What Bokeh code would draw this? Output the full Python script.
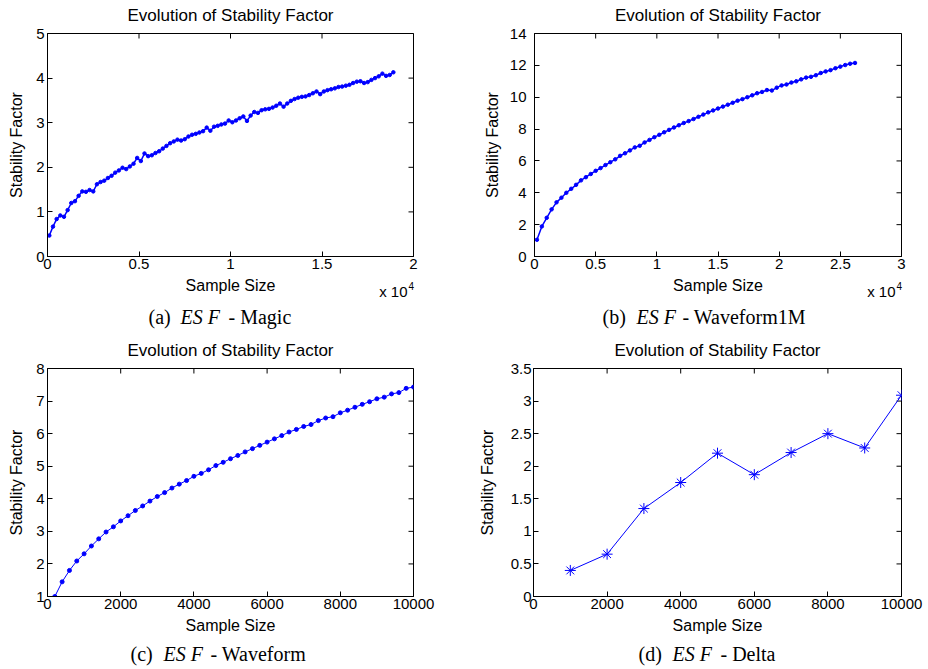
import math
from bokeh.plotting import figure
from bokeh.models import Range1d, LinearAxis, FixedTicker
from bokeh.core.properties import value
from bokeh.layouts import column, row
from bokeh.embed import file_html
from bokeh.resources import INLINE

# ---------------- data ----------------
MAGIC_X = list(range(100, 19000, 200))
MAGIC_Y = [0.47, 0.67, 0.84, 0.92, 0.89, 1.04, 1.20, 1.24, 1.36, 1.46,
           1.45, 1.49, 1.46, 1.62, 1.67, 1.70, 1.76, 1.81, 1.88, 1.93,
           1.99, 1.96, 2.02, 2.08, 2.21, 2.14, 2.31, 2.25, 2.27, 2.32,
           2.36, 2.42, 2.48, 2.54, 2.58, 2.62, 2.60, 2.63, 2.69, 2.73,
           2.75, 2.78, 2.81, 2.89, 2.82, 2.91, 2.93, 2.96, 2.98, 3.05,
           3.01, 3.05, 3.10, 3.14, 3.04, 3.16, 3.24, 3.22, 3.28, 3.30,
           3.31, 3.34, 3.38, 3.43, 3.36, 3.43, 3.49, 3.53, 3.56, 3.58,
           3.59, 3.62, 3.66, 3.70, 3.64, 3.70, 3.73, 3.75, 3.77, 3.80,
           3.81, 3.83, 3.85, 3.89, 3.92, 3.93, 3.89, 3.91, 3.96, 4.00,
           4.04, 4.10, 4.05, 4.07, 4.13]
MAGIC_XTICKS = [0, 5000, 10000, 15000, 20000]
MAGIC_XTICK_LABELS = ["0", "0.5", "1", "1.5", "2"]
MAGIC_YTICKS = [0, 1, 2, 3, 4, 5]
MAGIC_YTICK_LABELS = ["0", "1", "2", "3", "4", "5"]

W1M_X = list(range(200, 26201, 400))
W1M_Y = [1.05, 1.89, 2.43, 2.96, 3.40, 3.69, 4.00, 4.25, 4.50, 4.78,
         4.98, 5.18, 5.38, 5.55, 5.74, 5.92, 6.10, 6.32, 6.48, 6.66,
         6.85, 6.95, 7.16, 7.32, 7.49, 7.64, 7.80, 7.95, 8.10, 8.24,
         8.38, 8.50, 8.63, 8.77, 8.91, 9.05, 9.17, 9.29, 9.41, 9.53,
         9.65, 9.78, 9.88, 10.00, 10.12, 10.25, 10.33, 10.45, 10.42, 10.60,
         10.74, 10.80, 10.92, 11.00, 11.12, 11.23, 11.28, 11.38, 11.52, 11.62,
         11.70, 11.82, 11.92, 12.02, 12.10, 12.15]
W1M_XTICKS = [0, 5000, 10000, 15000, 20000, 25000, 30000]
W1M_XTICK_LABELS = ["0", "0.5", "1", "1.5", "2", "2.5", "3"]
W1M_YTICKS = [0, 2, 4, 6, 8, 10, 12, 14]
W1M_YTICK_LABELS = ["0", "2", "4", "6", "8", "10", "12", "14"]

WAVE_X = list(range(200, 10001, 200))
WAVE_Y = [1.00, 1.45, 1.80, 2.09, 2.31, 2.55, 2.77, 2.98, 3.14, 3.32,
          3.48, 3.64, 3.78, 3.93, 4.07, 4.19, 4.33, 4.45, 4.56, 4.69,
          4.78, 4.89, 5.02, 5.12, 5.23, 5.33, 5.44, 5.54, 5.64, 5.74,
          5.84, 5.94, 6.05, 6.13, 6.22, 6.28, 6.40, 6.48, 6.52, 6.64,
          6.72, 6.81, 6.90, 6.98, 7.07, 7.12, 7.22, 7.26, 7.39, 7.43]
WAVE_XTICKS = [0, 2000, 4000, 6000, 8000, 10000]
WAVE_XTICK_LABELS = ["0", "2000", "4000", "6000", "8000", "10000"]
WAVE_YTICKS = [1, 2, 3, 4, 5, 6, 7, 8]
WAVE_YTICK_LABELS = ["1", "2", "3", "4", "5", "6", "7", "8"]

DELTA_X = [1000, 2000, 3000, 4000, 5000, 6000, 7000, 8000, 9000, 10000]
DELTA_Y = [0.40, 0.65, 1.35, 1.75, 2.20, 1.87, 2.21, 2.50, 2.28, 3.09]
DELTA_XTICKS = [0, 2000, 4000, 6000, 8000, 10000]
DELTA_XTICK_LABELS = ["0", "2000", "4000", "6000", "8000", "10000"]
DELTA_YTICKS = [0, 0.5, 1, 1.5, 2, 2.5, 3, 3.5]
DELTA_YTICK_LABELS = ["0", "0.5", "1", "1.5", "2", "2.5", "3", "3.5"]

TITLE = "Evolution of Stability Factor"
XLABEL = "Sample Size"
YLABEL = "Stability Factor"
CAPTIONS = [("(a)", "ES F", "- Magic"), ("(b)", "ES F", "- Waveform1M"),
            ("(c)", "ES F", "- Waveform"), ("(d)", "ES F", "- Delta")]

FONT = "Liberation Sans"
SERIF = "Liberation Serif"
BLUE = "#0000ff"
PAGE_W = 928
TICK_LEN = 5


def style_axis(ax, label_standoff, axis_label_standoff):
    ax.axis_line_color = "black"
    ax.axis_line_width = 1
    ax.major_tick_line_color = "black"
    ax.major_tick_in = TICK_LEN
    ax.major_tick_out = 0
    ax.minor_tick_line_color = None
    ax.major_label_text_font = FONT
    ax.major_label_text_font_size = "15px"
    ax.major_label_text_color = "black"
    ax.axis_label_text_font = FONT
    ax.axis_label_text_font_style = "normal"
    ax.axis_label_text_font_size = "16px"
    ax.axis_label_text_color = "black"
    ax.major_label_standoff = label_standoff
    ax.axis_label_standoff = axis_label_standoff


def panel(xs, ys, x_end, y_start, y_end, xticks, xlabels, yticks, ylabels,
          width, height, bl, br, bt, bb, ytick_standoff, ylab_standoff,
          marker, msize, lw):
    p = figure(width=width, height=height,
               x_range=Range1d(0, x_end), y_range=Range1d(y_start, y_end),
               output_backend="svg", toolbar_location=None, tools="",
               min_border_left=bl, min_border_right=br,
               min_border_top=bt, min_border_bottom=bb,
               x_axis_location=None, y_axis_location=None)
    p.grid.visible = False
    p.outline_line_color = "black"
    p.outline_line_width = 1
    p.background_fill_color = "white"
    p.border_fill_color = "white"

    xb = LinearAxis(ticker=FixedTicker(ticks=xticks),
                    major_label_overrides=dict(zip(xticks, xlabels)))
    style_axis(xb, 2, 0)
    p.add_layout(xb, "below")

    yl = LinearAxis(ticker=FixedTicker(ticks=yticks),
                    major_label_overrides=dict(zip(yticks, ylabels)),
                    axis_label=YLABEL)
    style_axis(yl, ytick_standoff, ylab_standoff)
    p.add_layout(yl, "left")

    # inward ticks on the top and right edges (half of each dash is clipped
    # away by the frame, leaving a tick pointing inwards)
    p.scatter(xticks, [y_end] * len(xticks), marker="dash", angle=math.pi / 2,
              size=2 * TICK_LEN, line_color="black", line_width=1)
    p.scatter([x_end] * len(yticks), yticks, marker="dash",
              size=2 * TICK_LEN, line_color="black", line_width=1)

    p.line(xs, ys, line_color=BLUE, line_width=lw)
    if marker == "asterisk":
        p.scatter(xs, ys, marker="asterisk", size=msize, line_color=BLUE,
                  line_width=1)
    else:
        p.scatter(xs, ys, marker="circle", size=msize, fill_color=BLUE,
                  line_color=BLUE)
    return p


def strip(height):
    s = figure(width=PAGE_W, height=height,
               x_range=Range1d(0, PAGE_W), y_range=Range1d(height, 0),
               output_backend="svg", toolbar_location=None, tools="",
               min_border_left=0, min_border_right=0,
               min_border_top=0, min_border_bottom=0,
               x_axis_location=None, y_axis_location=None)
    s.grid.visible = False
    s.outline_line_color = None
    s.background_fill_color = "white"
    s.border_fill_color = "white"
    return s


def put(s, x, y, txt, font=FONT, size="17px", style="normal", align="center"):
    s.text(x=[x], y=[y], text=[txt], text_font=value(font),
           text_font_size=value(size), text_font_style=style,
           text_align=align, text_baseline="middle", text_color="black")


# ---------------- layout geometry ----------------
A_BL, A_FW = 47, 366
B_BL, B_FW = 70, 367
C_BL, C_FW = 47, 366
D_BL, D_FW = 69, 368
HALF = 464
TOP_B, BOT_B = 8, 19

pa = panel(MAGIC_X, MAGIC_Y, 20000, 0, 5, MAGIC_XTICKS, MAGIC_XTICK_LABELS,
           MAGIC_YTICKS, MAGIC_YTICK_LABELS,
           HALF, TOP_B + 223 + BOT_B, A_BL, HALF - A_BL - A_FW, TOP_B, BOT_B,
           3, 8, "circle", 3.5, 1.5)
pb = panel(W1M_X, W1M_Y, 30000, 0, 14, W1M_XTICKS, W1M_XTICK_LABELS,
           W1M_YTICKS, W1M_YTICK_LABELS,
           HALF, TOP_B + 223 + BOT_B, B_BL, HALF - B_BL - B_FW, TOP_B, BOT_B,
           8, 6, "circle", 3.5, 1.5)
pc = panel(WAVE_X, WAVE_Y, 10000, 1, 8, WAVE_XTICKS, WAVE_XTICK_LABELS,
           WAVE_YTICKS, WAVE_YTICK_LABELS,
           HALF, TOP_B + 228 + BOT_B, C_BL, HALF - C_BL - C_FW, TOP_B, BOT_B,
           3, 8, "circle", 4, 1)
pd_ = panel(DELTA_X, DELTA_Y, 10000, 0, 3.5, DELTA_XTICKS, DELTA_XTICK_LABELS,
            DELTA_YTICKS, DELTA_YTICK_LABELS,
            HALF, TOP_B + 228 + BOT_B, D_BL, HALF - D_BL - D_FW, TOP_B, BOT_B,
            2, 12, "asterisk", 11, 1)

# strips holding titles / x-axis titles / captions
s1 = strip(25)
put(s1, A_BL + A_FW / 2, 15, TITLE)
put(s1, HALF + B_BL + B_FW / 2, 15, TITLE)

s2 = strip(60)
put(s2, A_BL + A_FW / 2, 10, XLABEL, size="16px")
put(s2, HALF + B_BL + B_FW / 2, 10, XLABEL, size="16px")
for left, fw in ((A_BL, A_FW), (HALF + B_BL, B_FW)):
    put(s2, left + fw - 6, 16, "x 10", size="15px", align="right")
    put(s2, left + fw - 5, 10, "4", size="10px", align="left")

s3 = strip(25)
put(s3, C_BL + C_FW / 2, 15, TITLE)
put(s3, HALF + D_BL + D_FW / 2, 15, TITLE)

s4 = strip(54)
put(s4, C_BL + C_FW / 2, 10, XLABEL, size="16px")
put(s4, HALF + D_BL + D_FW / 2, 10, XLABEL, size="16px")

CAP_OFFSETS = [(101, 133, 181), (68, 102, 148), (83, 116, 163), (105, 139, 187)]
CAP_LEFTS = [A_BL, HALF + B_BL, C_BL, HALF + D_BL]
CAP_STRIPS = [(s2, 41), (s2, 41), (s4, 38), (s4, 38)]
for cap, offs, left, (s, cy) in zip(CAPTIONS, CAP_OFFSETS, CAP_LEFTS, CAP_STRIPS):
    for txt, off, style in zip(cap, offs, ("normal", "italic", "normal")):
        put(s, left + off, cy, txt, font=SERIF, size="20px", style=style,
            align="left")

layout = column(s1, row(pa, pb), s2, s3, row(pc, pd_), s4)

with open("out.html", "w") as f:
    f.write(file_html(layout, INLINE))
